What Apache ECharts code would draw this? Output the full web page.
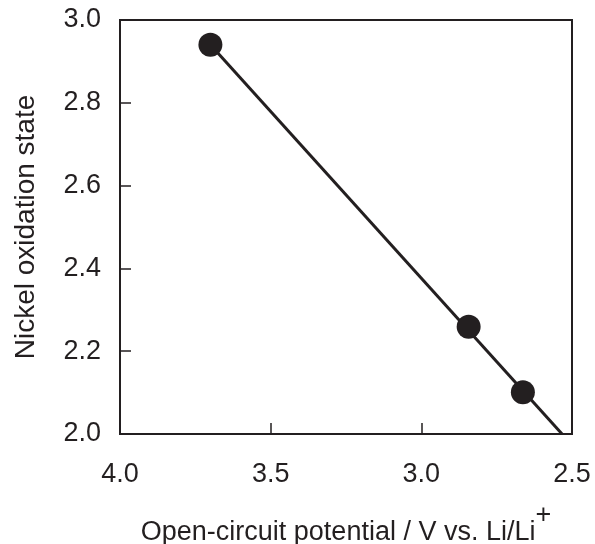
<!DOCTYPE html>
<html>
<head>
<meta charset="utf-8">
<script src="https://cdn.jsdelivr.net/npm/echarts@6/dist/echarts.min.js"></script>
<style>
  html, body { margin: 0; padding: 0; background: #fff; }
  #chart { width: 595px; height: 544px; }
</style>
</head>
<body>
<div id="chart"></div>
<script>
// measured points
var potential = [3.70, 2.843, 2.663];
var oxState = [2.94, 2.259, 2.101];
// fitted line, from first point down to the x axis
var fitX = [3.70, 2.533];
var fitY = [2.94, 2.0];

var ink = '#231f20';
var font = 'Liberation Sans, Arial, sans-serif';

var chart = echarts.init(document.getElementById('chart'));

var pts = potential.map(function (x, i) { return [x, oxState[i]]; });
var fit = fitX.map(function (x, i) { return [x, fitY[i]]; });

var option = {
    animation: false,
    backgroundColor: '#fff',
    grid: {
        left: 120, right: 23, top: 20, bottom: 110,
        outerBoundsMode: 'none',
        show: true, borderColor: ink, borderWidth: 2, backgroundColor: 'transparent'
    },
    xAxis: {
        type: 'value',
        min: 2.5, max: 4.0, interval: 0.5,
        inverse: true,
        axisLine: { show: true, lineStyle: { color: ink, width: 2 } },
        axisTick: { show: true, inside: true, length: 11, lineStyle: { color: ink, width: 1.5 } },
        splitLine: { show: false },
        axisLabel: {
            margin: 27, fontSize: 27, color: ink, fontFamily: font,
            formatter: function (v) { return v.toFixed(1); }
        },
        name: '{a|Open-circuit potential / V vs. Li/Li}{s|+}',
        nameLocation: 'middle',
        nameGap: 68,
        nameTextStyle: {
            rich: {
                a: { fontSize: 27, color: ink, fontFamily: font, verticalAlign: 'bottom', lineHeight: 44 },
                s: { fontSize: 27, color: ink, fontFamily: font, verticalAlign: 'top', lineHeight: 44, padding: [0, 0, 14, 0] }
            }
        }
    },
    yAxis: {
        type: 'value',
        min: 2.0, max: 3.0, interval: 0.2,
        axisLine: { show: true, lineStyle: { color: ink, width: 2 } },
        axisTick: { show: true, inside: true, length: 11, lineStyle: { color: ink, width: 1.5 } },
        splitLine: { show: false },
        axisLabel: {
            margin: 19, fontSize: 27, color: ink, fontFamily: font,
            formatter: function (v) { return v.toFixed(1); }
        },
        name: 'Nickel oxidation state',
        nameLocation: 'middle',
        nameGap: 80,
        nameTextStyle: { fontSize: 28, color: ink, fontFamily: font }
    },
    series: [
        {
            type: 'line',
            data: fit,
            symbol: 'none',
            lineStyle: { color: ink, width: 3 },
            silent: true,
            z: 2
        },
        {
            type: 'scatter',
            data: pts,
            symbol: 'circle',
            symbolSize: 24,
            itemStyle: { color: ink, opacity: 1 },
            silent: true,
            z: 3
        }
    ]
};

chart.setOption(option);
</script>
</body>
</html>
